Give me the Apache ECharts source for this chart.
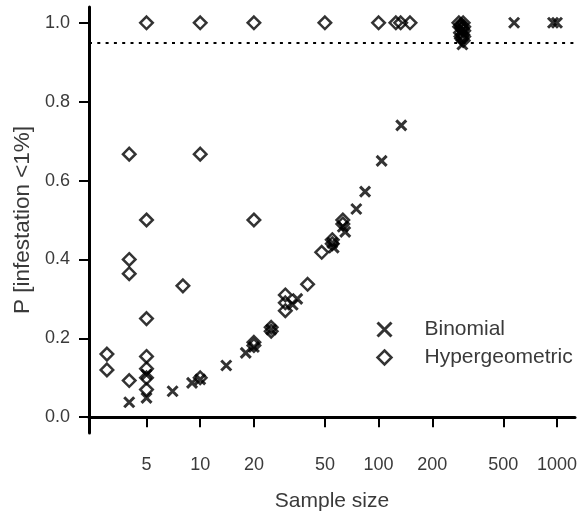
<!DOCTYPE html>
<html>
<head>
<meta charset="utf-8">
<script src="https://cdn.jsdelivr.net/npm/echarts@6/dist/echarts.min.js"></script>
<style>
  html, body { margin: 0; padding: 0; background: #fff; }
  #chart { width: 581px; height: 519px; }
</style>
</head>
<body>
<div id="chart"></div>
<script>
// Binomial estimates (sample size, probability)
var binomSize = [4, 5, 5, 7, 9, 10, 14, 18, 20, 25, 33, 35, 55, 56, 63, 65, 75, 84, 104, 134, 295, 575, 950, 1000];
var binomProb = [0.038, 0.049, 0.108, 0.066, 0.087, 0.096, 0.131, 0.163, 0.178, 0.222, 0.285, 0.30, 0.442, 0.43, 0.483, 0.47, 0.528, 0.572, 0.65, 0.74, 0.945, 1.0, 1.0, 1.0];

// Hypergeometric estimates
var hyperSize = [3, 3, 4, 4, 4, 4, 5, 5, 5, 5, 5, 5, 5, 8, 10, 10, 10, 20, 20, 20, 20, 25, 25, 30, 30, 30, 40, 48, 55, 55, 63, 63,
                 50, 100, 125, 133, 150, 282, 290, 298, 292, 300, 288, 296, 300, 292, 285, 300, 295, 290, 298];
var hyperProb = [0.16, 0.12, 0.667, 0.40, 0.364, 0.093, 1.0, 0.5, 0.25, 0.154, 0.123, 0.10, 0.07, 0.333, 1.0, 0.667, 0.10, 1.0, 0.5, 0.19, 0.182, 0.228, 0.218, 0.31, 0.29, 0.27, 0.337, 0.418, 0.45, 0.44, 0.5, 0.49,
                 1.0, 1.0, 1.0, 1.0, 1.0, 1.0, 0.995, 1.0, 0.988, 0.98, 0.975, 0.97, 0.965, 0.96, 0.99, 0.99, 0.985, 0.965, 0.955];

var xTicks = [5, 10, 20, 50, 100, 200, 500, 1000];
var yTicks = [0, 0.2, 0.4, 0.6, 0.8, 1.0];
var threshold = 0.95;

function zip(a, b) {
    var out = [];
    for (var i = 0; i < a.length; i++) out.push([a[i], b[i]]);
    return out;
}

var textColor = '#3a3a3a';
var font = 'Liberation Sans, Arial, sans-serif';

var chart = echarts.init(document.getElementById('chart'), null, { renderer: 'canvas' });
var option = {
    animation: false,
    backgroundColor: '#fff',
    grid: { left: 89, right: 6, top: 7, bottom: 86, outerBoundsMode: 'none' },
    legend: {
        orient: 'vertical',
        left: 376,
        top: 319,
        padding: 0,
        itemWidth: 14,
        itemHeight: 14,
        itemGap: 7,
        selectedMode: false,
        textStyle: { fontSize: 21, color: textColor, fontFamily: font, padding: [0, 0, 0, 28] },
        data: [
            { name: 'Binomial', itemStyle: { borderColor: '#000', borderWidth: 3 } },
            { name: 'Hypergeometric', itemStyle: { color: 'rgba(0,0,0,0)', borderColor: '#000', borderWidth: 2.5 } }
        ]
    },
    xAxis: {
        type: 'log',
        min: 2.38,
        max: 1262,
        name: 'Sample size',
        nameLocation: 'middle',
        nameGap: 58,
        nameTextStyle: { fontSize: 21, color: textColor, fontFamily: font },
        axisLine: { show: true, lineStyle: { color: '#000', width: 3 } },
        axisTick: { show: true, inside: false, length: 10, customValues: xTicks, lineStyle: { color: '#000', width: 2 } },
        minorTick: { show: false },
        axisLabel: {
            customValues: xTicks,
            margin: 23,
            fontSize: 18,
            color: textColor,
            fontFamily: font,
            formatter: function (v) { return String(Math.round(v)); }
        },
        splitLine: { show: false }
    },
    yAxis: {
        type: 'value',
        min: -0.04,
        max: 1.04,
        name: 'P [infestation <1%]',
        nameLocation: 'middle',
        nameGap: 55,
        nameRotate: 90,
        nameTextStyle: { fontSize: 22.5, color: textColor, fontFamily: font },
        axisLine: { show: true, lineStyle: { color: '#000', width: 3 } },
        axisTick: { show: true, inside: false, length: 10, customValues: yTicks, lineStyle: { color: '#000', width: 2 } },
        axisLabel: {
            customValues: yTicks,
            margin: 19,
            fontSize: 18,
            color: textColor,
            fontFamily: font,
            formatter: function (v) { return Number(v).toFixed(1); }
        },
        splitLine: { show: false }
    },
    series: [
        {
            name: 'Binomial',
            type: 'scatter',
            symbol: 'path://M0,0L10,10M10,0L0,10',
            symbolSize: 10,
            itemStyle: { color: '#000', borderColor: '#000', borderWidth: 3 },
            emphasis: { disabled: true },
            data: zip(binomSize, binomProb),
            markLine: {
                silent: true,
                symbol: 'none',
                label: { show: false },
                lineStyle: { color: '#000', width: 2, type: [3, 5.3] },
                data: [{ yAxis: threshold }]
            }
        },
        {
            name: 'Hypergeometric',
            type: 'scatter',
            symbol: 'diamond',
            symbolSize: 12.5,
            itemStyle: { color: 'rgba(0,0,0,0)', borderColor: '#000', borderWidth: 2.5 },
            emphasis: { disabled: true },
            data: zip(hyperSize, hyperProb)
        }
    ]
};
chart.setOption(option);
</script>
</body>
</html>
